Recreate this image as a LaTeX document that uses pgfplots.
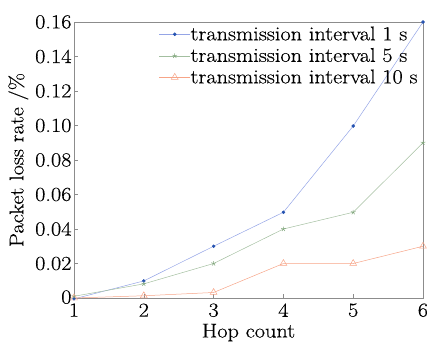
\documentclass[border=0pt]{standalone}
\usepackage{fontspec}
\setmainfont{Latin Modern Roman}[FakeStretch=1.12, FakeBold=0.4]
\usepackage{pgfplots}
\pgfplotsset{compat=1.18}
\usetikzlibrary{calc}
\definecolor{bline}{HTML}{95A5E6}
\definecolor{bmark}{HTML}{2452B0}
\definecolor{gline}{HTML}{A3BFA0}
\definecolor{gmark}{HTML}{7FA57A}
\definecolor{oline}{HTML}{F7A487}
\definecolor{axg}{HTML}{8C8C8C}
\begin{document}
\begin{tikzpicture}
\begin{axis}[
  scale only axis,
  width=349bp, height=276bp,
  xmin=1, xmax=6, ymin=0, ymax=0.16,
  xtick={1,2,3,4,5,6},
  xticklabels={1,2,3,4,5,6},
  ytick={0,0.02,0.04,0.06,0.08,0.10,0.12,0.14,0.16},
  yticklabels={\raisebox{2bp}{0},0.02,0.04,0.06,0.08,0.10,0.12,0.14,0.16},
  tick pos=left, tick align=inside,
  major tick length=4bp,
  axis line style={axg, line width=0.6pt},
  every tick/.style={axg, line width=0.6pt},
  tick label style={font=\fontsize{20}{22}\selectfont},
  xticklabel style={yshift=-2bp},
  yticklabel style={xshift=1bp},
  label style={font=\fontsize{20}{22}\selectfont},
  xlabel={Hop count},
  ylabel={Packet loss rate /\%},
  xlabel style={yshift=0bp},
  ylabel style={yshift=0bp},
  legend style={at={(0.985,0.985)}, anchor=north east, draw=none, fill=none,
    font=\fontsize{20}{22}\selectfont, row sep=5.5bp, inner sep=0pt,
    nodes={inner sep=0pt, text height=14bp, text depth=2bp},
    cells={anchor=west}},
  legend image code/.code={
    \draw[mark repeat=2,mark phase=2,#1] plot coordinates {(0cm,0cm) (0.55cm,0cm) (1.1cm,0cm)};
  },
  clip=false,
]
\addplot[color=bline, line width=0.5pt, mark=*, mark size=1.5pt, mark options={fill=bmark, draw=bmark}]
  coordinates {(1,-0.0005) (2,0.0099) (3,0.03) (4,0.0497) (5,0.0997) (6,0.16)};
\addlegendentry{transmission interval 1 s}
\addplot[color=gline, line width=0.5pt, mark=star, mark size=2.5pt, mark options={draw=gmark}]
  coordinates {(1,0.001) (2,0.0082) (3,0.02) (4,0.04) (5,0.0497) (6,0.09)};
\addlegendentry{transmission interval 5 s}
\addplot[color=oline, line width=0.5pt, mark=triangle, mark size=4pt, mark options={draw=oline}]
  coordinates {(1,0) (2,0.0013) (3,0.0032) (4,0.02) (5,0.02) (6,0.03)};
\addlegendentry{transmission interval 10 s}
\end{axis}
\pgfresetboundingbox
\useasboundingbox ($(current axis.south west)+(-74bp,-46bp)$) rectangle ($(current axis.north east)+(4bp,22bp)$);
\end{tikzpicture}
\end{document}
